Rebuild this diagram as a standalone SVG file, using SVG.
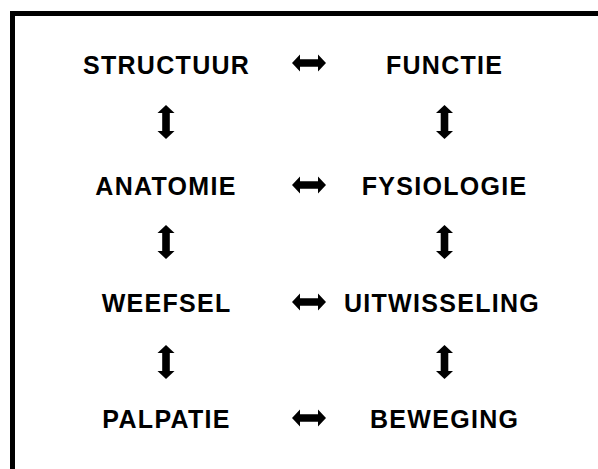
<svg xmlns="http://www.w3.org/2000/svg" width="598" height="469" viewBox="0 0 598 469">
  <style>
    .frame { fill: none; stroke: #000; stroke-width: 5; }
    .label { font-family: "Liberation Sans", Arial, sans-serif; font-weight: bold; font-size: 25px; letter-spacing: 1.3px; fill: #000; text-anchor: middle; }
    .arrow { fill: #000; }
  </style>
  <defs>
    <!-- double-headed arrow, horizontal, centred on the origin -->
    <path id="dbl" d="M-17,0 L-9,-8.5 L-9,-3.8 L9,-3.8 L9,-8.5 L17,0 L9,8.5 L9,3.8 L-9,3.8 L-9,8.5 Z"/>
  </defs>

  <rect width="598" height="469" fill="#fff"/>
  <!-- open frame: top and left edges -->
  <path class="frame" d="M12.5,469 L12.5,13.5 L598,13.5"/>

  <g id="structuur"><text class="label" x="166.6" y="74">STRUCTUUR</text></g>
  <g id="functie"><text class="label" x="444.6" y="74">FUNCTIE</text></g>
  <g id="anatomie"><text class="label" x="166" y="195">ANATOMIE</text></g>
  <g id="fysiologie"><text class="label" x="444.6" y="195">FYSIOLOGIE</text></g>
  <g id="weefsel"><text class="label" x="166.6" y="311.5">WEEFSEL</text></g>
  <g id="uitwisseling"><text class="label" x="442" y="311.5">UITWISSELING</text></g>
  <g id="palpatie"><text class="label" x="166.6" y="428">PALPATIE</text></g>
  <g id="beweging"><text class="label" x="444.6" y="428">BEWEGING</text></g>

  <g id="connectors" class="arrow">
    <!-- horizontal links -->
    <use href="#dbl" transform="translate(309,63)"/>
    <use href="#dbl" transform="translate(309,185)"/>
    <use href="#dbl" transform="translate(309,302)"/>
    <use href="#dbl" transform="translate(309,418)"/>
    <!-- vertical links, left column -->
    <use href="#dbl" transform="translate(166,122) rotate(90)"/>
    <use href="#dbl" transform="translate(166,242) rotate(90)"/>
    <use href="#dbl" transform="translate(166,362) rotate(90)"/>
    <!-- vertical links, right column -->
    <use href="#dbl" transform="translate(444.5,122) rotate(90)"/>
    <use href="#dbl" transform="translate(444.5,242) rotate(90)"/>
    <use href="#dbl" transform="translate(444.5,362) rotate(90)"/>
  </g>
</svg>
